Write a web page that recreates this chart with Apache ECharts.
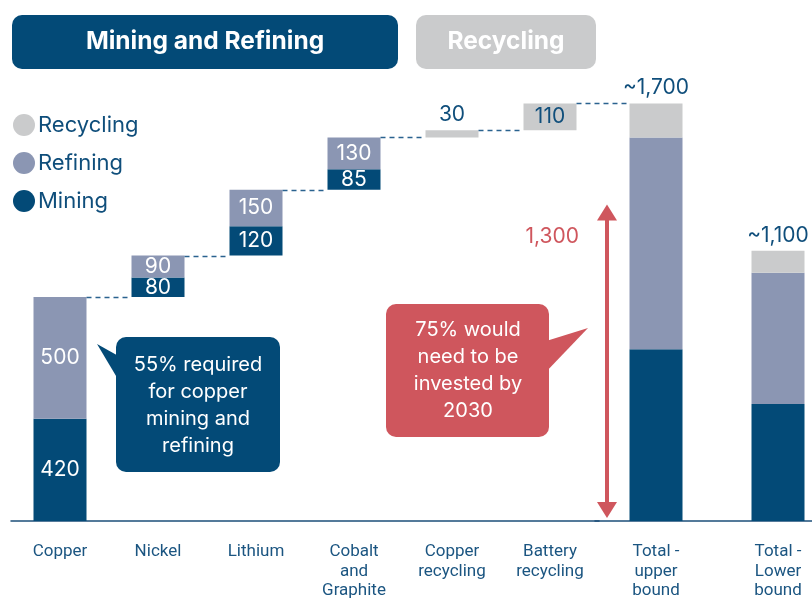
<!DOCTYPE html>
<html>
<head>
<meta charset="utf-8">
<script src="https://cdn.jsdelivr.net/npm/echarts@6/dist/echarts.min.js"></script>
<style>
  html, body { margin: 0; padding: 0; background: #ffffff; }
  #chart { width: 812px; height: 598px; }
</style>
</head>
<body>
<div id="chart"></div>
<script>
// Investment build-up by material (waterfall) and the two total bounds
const categories = ['Copper', 'Nickel', 'Lithium', 'Cobalt\nand\nGraphite', 'Copper\nrecycling', 'Battery\nrecycling'];
const mining = [420, 80, 120, 85, 0, 0];
const refining = [500, 90, 150, 130, 0, 0];
const recycling = [0, 0, 0, 0, 30, 110];

const totalCategories = ['Total -\nupper\nbound', 'Total -\nLower\nbound'];
const totalMining = [705, 480];
const totalRefining = [870, 540];
const totalRecycling = [140, 90];
const totalLabels = ['~1,700', '~1,100'];

const gapValue = 1300;
const gapLabel = '1,300';

const NAVY = '#034a77';
const REFINE = '#8b96b3';
const RECYCLE = '#cacbcc';
const RED = '#cf565d';
const TEXT_NAVY = '#0f4e7b';
const FONT = 'Inter, "Noto Sans", sans-serif';

// cumulative offsets for the floating waterfall bars
const base = [];
let running = 0;
for (let i = 0; i < categories.length; i++) {
  base.push(running);
  running += mining[i] + refining[i] + recycling[i];
}
const tops = categories.map((_, i) => base[i] + mining[i] + refining[i] + recycling[i]);

const BAR_W = 53;
const valueLabel = (color) => ({
  show: true,
  position: 'inside',
  color: color,
  fontSize: 21,
  fontFamily: FONT,
  formatter: (p) => (p.value > 0 ? String(p.value) : '')
});

const chart = echarts.init(document.getElementById('chart'), null, { renderer: 'canvas' });

const xAxisCommon = {
  type: 'category',
  axisLine: { lineStyle: { color: '#1d4f7a', width: 1.5 } },
  axisTick: { show: false },
  axisLabel: {
    interval: 0,
    color: '#1b5581',
    fontSize: 17,
    fontFamily: 'Roboto, sans-serif',
    lineHeight: 19.5,
    margin: 21
  }
};

chart.setOption({
  animation: false,
  backgroundColor: '#ffffff',
  legend: {
    data: ['Recycling', 'Refining', 'Mining'],
    orient: 'vertical',
    left: 13,
    top: 114,
    padding: 0,
    icon: 'circle',
    itemWidth: 22,
    itemHeight: 22,
    itemGap: 16,
    selectedMode: false,
    textStyle: { color: TEXT_NAVY, fontSize: 22, fontFamily: FONT, padding: [0, 0, 0, -2] }
  },
  grid: [
    { left: 11, width: 588, top: 34, bottom: 77, outerBoundsMode: 'none', containLabel: false },
    { left: 595, width: 244, top: 34, bottom: 77, outerBoundsMode: 'none', containLabel: false }
  ],
  xAxis: [
    Object.assign({ gridIndex: 0, data: categories }, xAxisCommon),
    Object.assign({ gridIndex: 1, data: totalCategories }, xAxisCommon)
  ],
  yAxis: [
    { type: 'value', gridIndex: 0, min: 0, max: 2000, show: false, splitLine: { show: false } },
    { type: 'value', gridIndex: 1, min: 0, max: 2000, show: false, splitLine: { show: false } }
  ],
  series: [
    {
      name: 'base', type: 'bar', stack: 'flow', xAxisIndex: 0, yAxisIndex: 0,
      barWidth: BAR_W, silent: true,
      itemStyle: { color: 'rgba(0,0,0,0)' },
      data: base
    },
    {
      name: 'Mining', type: 'bar', stack: 'flow', xAxisIndex: 0, yAxisIndex: 0,
      barWidth: BAR_W, itemStyle: { color: NAVY },
      label: valueLabel('#ffffff'),
      data: mining
    },
    {
      name: 'Refining', type: 'bar', stack: 'flow', xAxisIndex: 0, yAxisIndex: 0,
      barWidth: BAR_W, itemStyle: { color: REFINE },
      label: valueLabel('#ffffff'),
      data: refining
    },
    {
      name: 'Recycling', type: 'bar', stack: 'flow', xAxisIndex: 0, yAxisIndex: 0,
      barWidth: BAR_W, itemStyle: { color: RECYCLE },
      label: valueLabel(TEXT_NAVY),
      data: recycling.map((v) => ({
        value: v,
        label: v > 0 && v < 60 ? { position: 'top', distance: 5 } : {}
      }))
    },
    {
      name: 'Mining', type: 'bar', stack: 'total', xAxisIndex: 1, yAxisIndex: 1,
      barWidth: BAR_W, itemStyle: { color: NAVY },
      data: totalMining
    },
    {
      name: 'Refining', type: 'bar', stack: 'total', xAxisIndex: 1, yAxisIndex: 1,
      barWidth: BAR_W, itemStyle: { color: REFINE },
      data: totalRefining
    },
    {
      name: 'Recycling', type: 'bar', stack: 'total', xAxisIndex: 1, yAxisIndex: 1,
      barWidth: BAR_W, itemStyle: { color: RECYCLE },
      label: {
        show: true, position: 'top', distance: 5,
        color: TEXT_NAVY, fontSize: 21, fontFamily: FONT,
        formatter: (p) => totalLabels[p.dataIndex]
      },
      data: totalRecycling
    }
  ]
});

// dashed connectors between consecutive waterfall steps
const graphics = [];
const half = BAR_W / 2;
for (let i = 0; i < categories.length; i++) {
  const from = chart.convertToPixel({ xAxisIndex: 0, yAxisIndex: 0 }, [i, tops[i]]);
  let to;
  if (i < categories.length - 1) {
    to = chart.convertToPixel({ xAxisIndex: 0, yAxisIndex: 0 }, [i + 1, tops[i]]);
  } else {
    to = chart.convertToPixel({ xAxisIndex: 1, yAxisIndex: 1 }, [0, tops[i]]);
  }
  const y = Math.round(from[1]) + 0.5;
  graphics.push({
    type: 'line', silent: true, z: 5,
    shape: { x1: from[0] + half, y1: y, x2: to[0] - half, y2: y },
    style: { stroke: '#2a628f', lineWidth: 1.3, lineDash: [5, 4] }
  });
}

// gap arrow between today and the upper bound
const arrowX = 607;
const yTop = chart.convertToPixel({ xAxisIndex: 0, yAxisIndex: 0 }, [0, gapValue])[1];
const yBot = chart.convertToPixel({ xAxisIndex: 0, yAxisIndex: 0 }, [0, 0])[1] - 3;
graphics.push(
  { type: 'rect', silent: true, z: 6,
    shape: { x: arrowX - 2, y: yTop + 12, width: 4, height: yBot - yTop - 24 },
    style: { fill: RED } },
  { type: 'polygon', silent: true, z: 6,
    shape: { points: [[arrowX, yTop], [arrowX - 10, yTop + 16], [arrowX + 10, yTop + 16]] },
    style: { fill: RED } },
  { type: 'polygon', silent: true, z: 6,
    shape: { points: [[arrowX, yBot], [arrowX - 10, yBot - 16], [arrowX + 10, yBot - 16]] },
    style: { fill: RED } },
  { type: 'text', silent: true, z: 6,
    style: { text: gapLabel, x: 579, y: 237, align: 'right', verticalAlign: 'middle',
             textAlign: 'right', textVerticalAlign: 'middle',
             font: '21px ' + FONT, fill: RED } }
);

// section headers
graphics.push(
  { type: 'rect', silent: true, z: 6,
    shape: { x: 12, y: 15, width: 386, height: 54, r: 10 },
    style: { fill: NAVY } },
  { type: 'text', silent: true, z: 7,
    style: { text: 'Mining and Refining', x: 205, y: 42, align: 'center', verticalAlign: 'middle',
             textAlign: 'center', textVerticalAlign: 'middle',
             font: 'bold 24.5px ' + FONT, fill: '#ffffff' } },
  { type: 'rect', silent: true, z: 6,
    shape: { x: 416, y: 15, width: 180, height: 54, r: 10 },
    style: { fill: RECYCLE } },
  { type: 'text', silent: true, z: 7,
    style: { text: 'Recycling', x: 506, y: 42, align: 'center', verticalAlign: 'middle',
             textAlign: 'center', textVerticalAlign: 'middle',
             font: 'bold 24.5px ' + FONT, fill: '#ffffff' } }
);

// callouts
graphics.push(
  { type: 'polygon', silent: true, z: 6,
    shape: { points: [[97, 344], [122, 358], [122, 386]] },
    style: { fill: NAVY } },
  { type: 'rect', silent: true, z: 6,
    shape: { x: 116, y: 337, width: 164, height: 135, r: 10 },
    style: { fill: NAVY } },
  { type: 'text', silent: true, z: 7,
    style: { text: '55% required\nfor copper\nmining and\nrefining', x: 198, y: 405.5,
             align: 'center', verticalAlign: 'middle',
             textAlign: 'center', textVerticalAlign: 'middle',
             font: '20px ' + FONT, lineHeight: 27, fill: '#ffffff' } },
  { type: 'polygon', silent: true, z: 6,
    shape: { points: [[588, 328], [543, 342], [543, 375]] },
    style: { fill: RED } },
  { type: 'rect', silent: true, z: 6,
    shape: { x: 386, y: 304, width: 163, height: 133, r: 10 },
    style: { fill: RED } },
  { type: 'text', silent: true, z: 7,
    style: { text: '75% would\nneed to be\ninvested by\n2030', x: 468, y: 370.5,
             align: 'center', verticalAlign: 'middle',
             textAlign: 'center', textVerticalAlign: 'middle',
             font: '20px ' + FONT, lineHeight: 27, fill: '#ffffff' } }
);

chart.setOption({ graphic: graphics });
</script>
</body>
</html>
